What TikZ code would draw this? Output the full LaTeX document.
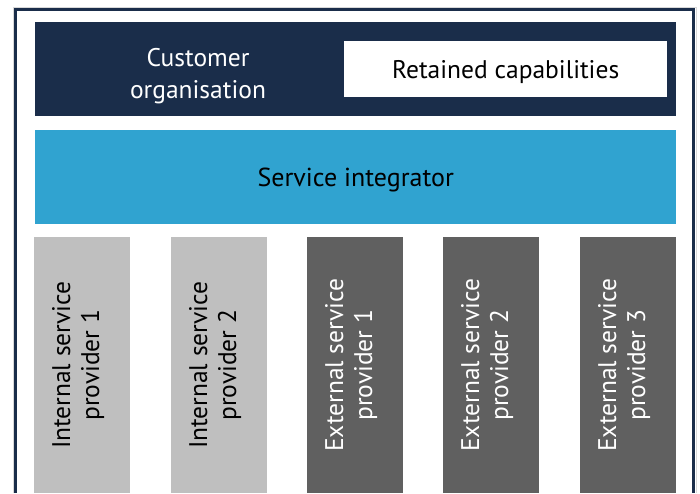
\documentclass[tikz,border=0pt]{standalone}
\usepackage{fontspec}
\setmainfont{PT Sans}
\definecolor{navy}{HTML}{1A2D4A}
\definecolor{integblue}{HTML}{30A3D0}
\definecolor{intgray}{HTML}{BFBFBF}
\definecolor{extgray}{HTML}{606060}
\tikzset{
	band/.style={rectangle,anchor=north west,inner sep=0pt,text depth=0pt,font=\fontsize{25.5}{32}\selectfont,align=center},
	prov/.style={rectangle,anchor=north west,inner sep=0pt,minimum width=96pt,minimum height=256pt},
	provtext/.style={rotate=90,align=center,font=\fontsize{25.5}{29}\selectfont}
}
\begin{document}
\begin{tikzpicture}[x=1pt,y=-1pt]
		\useasboundingbox (0,0) rectangle (700,493);
		\draw[intgray!60,line width=1pt] (13,493) -- (13,7) -- (696,7) -- (696,493);
		\draw[navy,line width=2.5pt] (15.5,493) -- (15.5,9.5) -- (693.5,9.5) -- (693.5,493);

		\node[band,fill=navy,minimum width=641pt,minimum height=94pt] (cust) at (35,22) {};
		\node[band,fill=white,minimum width=323pt,minimum height=56pt] (ret) at (344,41) {Retained capabilities};
		\node[font=\fontsize{25.5}{32}\selectfont,align=center,text=white] (custtext) at (198,76) {Customer\\organisation};
		\node[band,fill=integblue,minimum width=641pt,minimum height=94pt,font=\fontsize{26}{32}\selectfont] (integ) at (35,130) {Service integrator};

		\node[prov,fill=intgray] (isp1) at (34,237) {};
		\node[prov,fill=intgray] (isp2) at (171,237) {};
		\node[prov,fill=extgray] (esp1) at (307,237) {};
		\node[prov,fill=extgray] (esp2) at (443,237) {};
		\node[prov,fill=extgray] (esp3) at (580,237) {};
		\foreach \p/\t in {isp1/Internal service\\provider 1,isp2/Internal service\\provider 2}
			\node[provtext] (\p text) at ([xshift=-4pt]\p.center) {\t};
		\foreach \p/\t in {esp1/External service\\provider 1,esp2/External service\\provider 2,esp3/External service\\provider 3}
			\node[provtext,text=white] (\p text) at ([xshift=-4pt]\p.center) {\t};
	\end{tikzpicture}
\end{document}
